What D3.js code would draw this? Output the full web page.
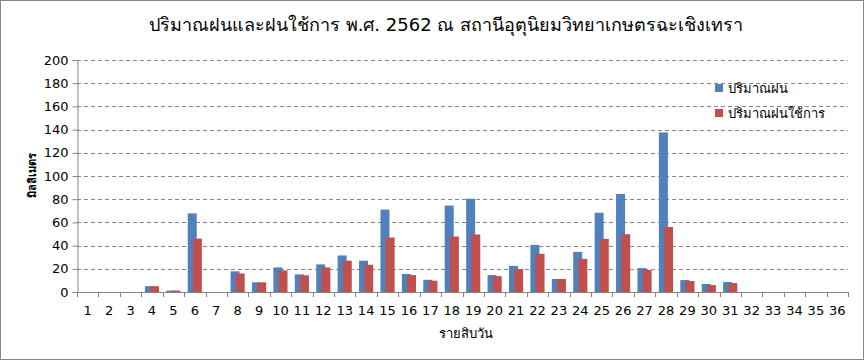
<!DOCTYPE html>
<html><head><meta charset="utf-8">
<script src="https://cdn.jsdelivr.net/npm/d3@7"></script>
<style>body{margin:0;background:#fff}svg{display:block}</style>
</head><body><svg id="c" width="864" height="360"></svg>
<script>
const categories = d3.range(1,37).map(String);
const rain = [0,0,0,5,1.2,67.8,0,17.8,8.3,21.2,15.2,23.8,31.5,27,71,15.5,10.5,74.5,80.4,14.6,22.5,40.6,11.2,34.6,68.3,84.5,20.6,137.6,10.3,6.9,8.6,0,0,0,0,0];
const effRain = [0,0,0,5,1.2,46,0,16,8.3,18.6,14.4,21.2,27,23.5,47,14.6,9.7,47.9,49.6,13.7,19.9,32.9,11.2,28.6,45.8,49.8,19,56,9.5,6,7.7,0,0,0,0,0];
const yTicks = [0,20,40,60,80,100,120,140,160,180,200];
const seriesNames = ["ปริมาณฝน","ปริมาณฝนใช้การ"];
const colors = ["#4F81BD","#C0504D"];
const title = "ปริมาณฝนและฝนใช้การ พ.ศ. 2562 ณ สถานีอุตุนิยมวิทยาเกษตรฉะเชิงเทรา";
const yTitle = "มิลลิเมตร";
const xTitle = "รายสิบวัน";

const svg = d3.select("#c");
const font = "Tahoma, 'DejaVu Sans', 'Noto Sans', sans-serif";
svg.append("rect").attr("x",0.5).attr("y",0.5).attr("width",863).attr("height",359).attr("fill","#fff").attr("stroke","#868686");

const L=77,R=848,T=60,B=292;
const x = d3.scaleBand().domain(categories).range([L,R]).padding(0);
const y = d3.scaleLinear().domain([0,200]).range([B,T]);

// grid
svg.append("g").selectAll("line").data(yTicks.filter(d=>d>0)).join("line")
  .attr("x1",L).attr("x2",R).attr("y1",d=>Math.round(y(d))+0.5).attr("y2",d=>Math.round(y(d))+0.5)
  .attr("stroke","#868686").attr("stroke-dasharray","4,3");

// bars
const bw = x.bandwidth()*0.42, off = x.bandwidth()*0.24;
const gB = svg.append("g");
gB.selectAll("rect.a").data(rain).join("rect").attr("class","a")
  .attr("x",(d,i)=>x(categories[i])+x.bandwidth()/2-(bw+off)/2)
  .attr("y",d=>y(d)).attr("width",bw).attr("height",d=>B-y(d)).attr("fill",colors[0]);
gB.selectAll("rect.b").data(effRain).join("rect").attr("class","b")
  .attr("x",(d,i)=>x(categories[i])+x.bandwidth()/2-(bw+off)/2+off)
  .attr("y",d=>y(d)).attr("width",bw).attr("height",d=>B-y(d)).attr("fill",colors[1]);

// y axis
const ya = svg.append("g").attr("transform",`translate(${L+0.5},0)`)
  .call(d3.axisLeft(y).tickValues(yTicks).tickSize(5).tickPadding(4));
ya.select(".domain").attr("stroke","#868686");
ya.selectAll("line").attr("stroke","#868686");
ya.selectAll("text").attr("font-family",font).attr("font-size",13).attr("fill","#000");

// x axis
const xa = svg.append("g").attr("transform",`translate(0,${B+0.5})`)
  .call(d3.axisBottom(x).tickSize(0).tickPadding(13));
xa.select(".domain").attr("stroke","#868686").attr("d",`M${L},0H${R}`);
xa.selectAll("text").attr("font-family",font).attr("font-size",13).attr("fill","#000");
svg.append("g").selectAll("line").data(d3.range(37)).join("line")
  .attr("x1",i=>Math.round(L+i*x.step())+0.5).attr("x2",i=>Math.round(L+i*x.step())+0.5)
  .attr("y1",B).attr("y2",B+5).attr("stroke","#868686");

// titles
svg.append("text").attr("x",446).attr("y",31).attr("text-anchor","middle")
  .attr("font-family",font).attr("font-size",18).text(title);
svg.append("text").attr("transform","translate(36,175) rotate(-90)").attr("text-anchor","middle")
  .attr("font-family",font).attr("font-size",11).attr("font-weight","bold").text(yTitle);
svg.append("text").attr("x",466).attr("y",338).attr("text-anchor","middle")
  .attr("font-family",font).attr("font-size",13).text(xTitle);

// legend
const lg = svg.append("g");
seriesNames.forEach((n,i)=>{
  lg.append("rect").attr("x",715).attr("y",84+i*25).attr("width",8).attr("height",8).attr("fill",colors[i]);
  lg.append("text").attr("x",728).attr("y",93+i*25).attr("font-family",font).attr("font-size",13).text(n);
});
</script></body></html>
